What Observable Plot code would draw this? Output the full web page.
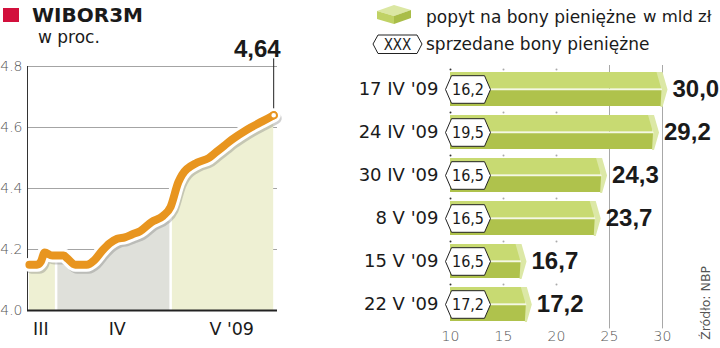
<!DOCTYPE html>
<html>
<head>
<meta charset="utf-8">
<script src="https://cdn.jsdelivr.net/npm/d3@7"></script>
<script src="https://cdn.jsdelivr.net/npm/@observablehq/plot@0.6"></script>
<style>
  html, body { margin: 0; padding: 0; background: #fff; }
  #wrap { position: relative; width: 720px; height: 348px; overflow: hidden; background: #fff; font-family: "DejaVu Sans", sans-serif; color: #1a1a1a; }
  .abs { position: absolute; white-space: nowrap; }
</style>
</head>
<body>
<div id="wrap">
  <div class="abs" style="left:3px;top:8px;width:16px;height:14px;background:#d2103c;"></div>
  <div class="abs" style="left:32px;top:5px;font-size:20px;line-height:20px;font-weight:bold;">WIBOR3M</div>
  <div class="abs" style="left:38px;top:28.6px;font-size:17px;line-height:17px;">w proc.</div>

  <svg class="abs" style="left:376px;top:2px;" width="38" height="24" viewBox="0 0 38 24">
    <polygon points="1,9 18,3 35,8 18,14" fill="#dbe7a3"/>
    <polygon points="1,9 18,14 18,22 1,17" fill="#c0d265"/>
    <polygon points="18,14 35,8 35,16 18,22" fill="#a9bd48"/>
  </svg>
  <div class="abs" style="left:426px;top:8.6px;font-size:17px;line-height:17px;">popyt na bony pieniężne</div>
  <div class="abs" style="left:643px;top:9px;font-size:16.5px;line-height:16.5px;">w mld zł</div>

  <svg class="abs" style="left:372px;top:34px;" width="52" height="21" viewBox="0 0 52 21">
    <polygon points="1,10 6,1 45,1 50,10 45,19.5 6,19.5" fill="#fff" stroke="#222" stroke-width="1"/>
    <text x="25.5" y="15.5" text-anchor="middle" font-size="15" font-family="'DejaVu Sans Condensed','DejaVu Sans',sans-serif" fill="#222">XXX</text>
  </svg>
  <div class="abs" style="left:426px;top:35.6px;font-size:17px;line-height:17px;">sprzedane bony pieniężne</div>

  <div id="left" class="abs" style="left:0;top:30px;"></div>
  <div id="right" class="abs" style="left:360px;top:60px;"></div>

  <div class="abs" style="left:699px;top:266px;font-size:12.5px;line-height:14px;color:#555;writing-mode:vertical-rl;transform:rotate(180deg);">Źródło: NBP</div>
</div>
<script>
// ---------- WIBOR3M data ----------
const wiborDates = ["2009-03-25","2009-03-27","2009-03-28","2009-03-29","2009-03-31","2009-04-01","2009-04-03","2009-04-04","2009-04-06","2009-04-09","2009-04-11","2009-04-13","2009-04-15","2009-04-17","2009-04-19","2009-04-21","2009-04-23","2009-04-26","2009-04-29","2009-05-01","2009-05-03","2009-05-04","2009-05-08","2009-05-11","2009-05-13","2009-05-15","2009-05-17","2009-05-20","2009-05-22","2009-05-25","2009-05-28"];
const wiborValues = [4.15,4.15,4.16,4.19,4.18,4.18,4.18,4.17,4.15,4.15,4.165,4.195,4.22,4.235,4.24,4.25,4.26,4.29,4.31,4.34,4.42,4.445,4.485,4.50,4.52,4.54,4.56,4.585,4.60,4.62,4.64];
const yTicks = [4.0, 4.2, 4.4, 4.6, 4.8];
const monthLabels = ["III", "IV", "V '09"];
const monthLabelDates = ["2009-03-28", "2009-04-17", "2009-05-17"];
const monthStarts = ["2009-04-01", "2009-05-01"];
const xDomain = ["2009-03-24T12:00Z", "2009-05-29T00:00Z"];

// ---------- Bond data ----------
const auctionDates = ["17 IV '09", "24 IV '09", "30 IV '09", "8 V '09", "15 V '09", "22 V '09"];
const demand = [30.0, 29.2, 24.3, 23.7, 16.7, 17.2];
const sold = [16.2, 19.5, 16.5, 16.5, 16.5, 17.2];
const xTicks = [10, 15, 20, 25, 30];
const smallTicks = [10, 15, 20];

const comma = (v, f) => d3.format(f)(v).replace(".", ",");

// ---------- Left chart ----------
const parse = d3.utcParse("%Y-%m-%d");
const wibor = wiborDates.map((d, i) => ({date: parse(d), value: wiborValues[i]}));
const apr1 = parse("2009-04-01"), may1 = parse("2009-05-01");
const marchData = wibor.filter(d => d.date <= apr1);
const aprilData = wibor.filter(d => d.date >= apr1 && d.date <= may1);
const mayData = wibor.filter(d => d.date >= may1);
const boundaries = wibor.filter(d => monthStarts.includes(d3.utcFormat("%Y-%m-%d")(d.date)));
const last = [wibor[wibor.length - 1]];
const months = monthLabels.map((t, i) => ({text: t, date: parse(monthLabelDates[i])}));
const orange = "#e8951f";
const curve = "monotone-x";

const left = Plot.plot({
  width: 300, height: 318,
  marginLeft: 27, marginRight: 23, marginTop: 36, marginBottom: 38,
  style: {background: "none", overflow: "visible", fontFamily: "DejaVu Sans, sans-serif"},
  x: {type: "utc", domain: xDomain.map(d => new Date(d)), axis: null, label: null},
  y: {domain: [4.0, 4.8], axis: null, label: null},
  marks: [
    Plot.ruleY(yTicks.slice(1), {stroke: "#9a9a9a", strokeWidth: 0.9}),
    Plot.areaY(marchData, {x: "date", y1: 4.0, y2: "value", fill: "#eef0d3", curve}),
    Plot.areaY(aprilData, {x: "date", y1: 4.0, y2: "value", fill: "#dfe0da", curve}),
    Plot.areaY(mayData, {x: "date", y1: 4.0, y2: "value", fill: "#eef0d3", curve}),
    Plot.ruleX(boundaries, {x: "date", y1: 4.0, y2: "value", stroke: "#fff", strokeWidth: 2.5}),
    Plot.ruleX([new Date(xDomain[0])], {y1: 4.0, y2: 4.8, stroke: "#333", strokeWidth: 1}),
    Plot.ruleY([4.0], {stroke: "#222", strokeWidth: 2}),
    Plot.ruleX(last, {x: "date", y1: "value", y2: 4.825, stroke: "#222", strokeWidth: 1}),
    Plot.line(wibor, {x: "date", y: "value", stroke: "#777", strokeOpacity: 0.35, strokeWidth: 12, dx: 2, dy: 3, curve, strokeLinecap: "round", strokeLinejoin: "round"}),
    Plot.line(wibor, {x: "date", y: "value", stroke: "#fff", strokeWidth: 14, curve, strokeLinecap: "round", strokeLinejoin: "round"}),
    Plot.line(wibor, {x: "date", y: "value", stroke: orange, strokeWidth: 8, curve, strokeLinecap: "round", strokeLinejoin: "round"}),
    Plot.dot(last, {x: "date", y: "value", r: 3.2, fill: "#fff", stroke: orange, strokeWidth: 1.8}),
    Plot.text(last, {x: "date", y: 4.825, text: d => comma(d.value, ".2f"), textAnchor: "end", dx: 7, dy: -10, fontSize: 24, fontWeight: "bold", fontFamily: "Liberation Sans, Arial, sans-serif", fill: "#1a1a1a"}),
    Plot.axisY({ticks: yTicks, tickSize: 0, tickPadding: 5, tickFormat: d3.format(".1f"), fontSize: 14, fill: "#555", fontWeight: 300, label: null}),
    Plot.text(months, {x: "date", y: 4.0, text: "text", dy: 19, fontSize: 17.5, fill: "#1a1a1a"})
  ]
});
document.getElementById("left").appendChild(left);

// ---------- Right chart ----------
const bars = auctionDates.map((d, i) => ({date: d, value: demand[i], sold: sold[i]}));
const dots = auctionDates.flatMap(d => smallTicks.map(t => ({date: d, x: t})));
const H = 17.44;
const capSymbol = {draw(ctx) {
  ctx.moveTo(-6, -H); ctx.lineTo(0, -H); ctx.lineTo(5, 0); ctx.lineTo(0, H); ctx.lineTo(-2, H); ctx.lineTo(-1, 0); ctx.closePath();
}};
const hexSymbol = {draw(ctx) {
  ctx.moveTo(-22.5, 0); ctx.lineTo(-16.5, -13.8); ctx.lineTo(16.5, -13.8); ctx.lineTo(22.5, 0); ctx.lineTo(16.5, 13.8); ctx.lineTo(-16.5, 13.8); ctx.closePath();
}};

const right = Plot.plot({
  width: 360, height: 288,
  marginLeft: 90, marginRight: 58, marginTop: 5, marginBottom: 19.6,
  style: {background: "none", overflow: "visible", fontFamily: "DejaVu Sans, sans-serif"},
  x: {domain: [10, 30], label: null},
  y: {type: "band", domain: auctionDates, paddingInner: 0.2, paddingOuter: 0.12, label: null},
  marks: [
    Plot.ruleX([25, 30], {stroke: "#a8a8a8", strokeWidth: 1}),
    Plot.dot(dots, {x: "x", y: "date", dy: -H - 2.5, r: 1, fill: d => d.x === 10 ? "#333" : "#aaa"}),
    Plot.rectX(bars, {y: "date", x1: 10, x2: "value", fill: "#afc24c", insetTop: H}),
    Plot.rectX(bars, {y: "date", x1: 10, x2: "value", fill: "#c8da72", insetBottom: H, insetRight: 1}),
    Plot.dot(bars, {x: "value", y: "date", symbol: capSymbol, fill: "#dce8a6"}),
    Plot.ruleY(bars, {y: "date", x1: 10, x2: "value", stroke: "#f4f8e4", strokeWidth: 1.3}),
    Plot.dot(bars, {x: 10, y: "date", dx: 17.5, symbol: hexSymbol, fill: "#fff", stroke: "#222", strokeWidth: 1}),
    Plot.text(bars, {x: 10, y: "date", dx: 17.5, text: d => comma(d.sold, ".1f"), fontSize: 16, fontFamily: "Liberation Sans Narrow, DejaVu Sans Condensed, sans-serif", fill: "#1a1a1a"}),
    Plot.text(bars, {x: "value", y: "date", text: d => comma(d.value, ".1f"), textAnchor: "start", dx: 10, fontSize: 24, fontWeight: "bold", fontFamily: "Liberation Sans, Arial, sans-serif", fill: "#1a1a1a"}),
    Plot.axisY({tickSize: 0, tickPadding: 12, fontSize: 18, fill: "#1a1a1a", label: null}),
    Plot.axisX({ticks: xTicks, tickSize: 0, tickPadding: 2, fontSize: 14, fill: "#555", fontWeight: 300, label: null})
  ]
});
document.getElementById("right").appendChild(right);
</script>
</body>
</html>
